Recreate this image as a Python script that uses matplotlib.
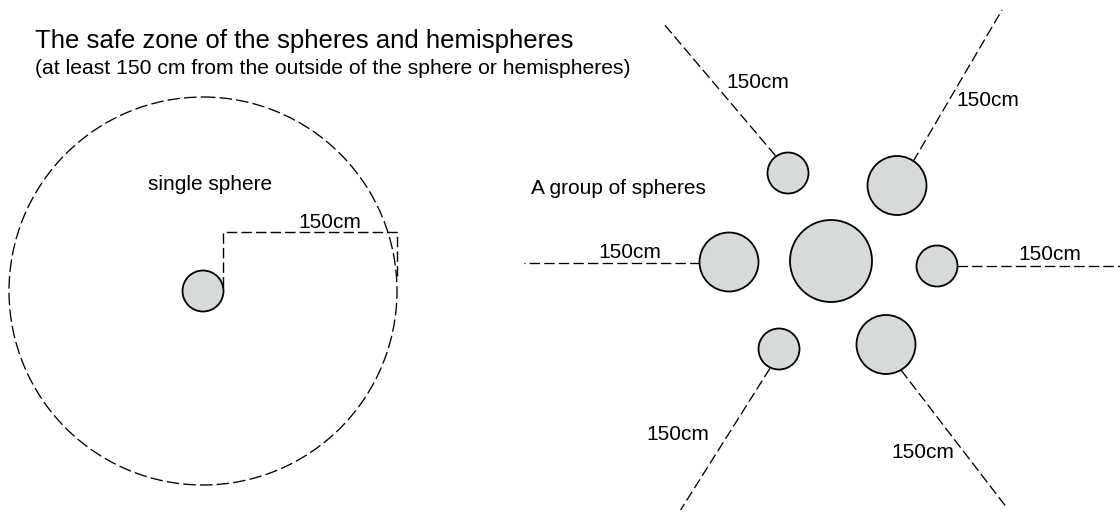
import matplotlib
matplotlib.use('Agg')
import matplotlib.pyplot as plt
from matplotlib.patches import Circle

plt.rcParams['font.family'] = ['Liberation Sans', 'DejaVu Sans']
plt.rcParams['lines.scale_dashes'] = False

# diagram geometry, in pixel units of the original drawing
title = 'The safe zone of the spheres and hemispheres'
subtitle = '(at least 150 cm from the outside of the sphere or hemispheres)'
label = '150cm'

# single sphere and its safe zone
single_x, single_y, single_r = 203, 291, 20.5
zone_r = 194
bracket_x = [223, 223, 397, 397]
bracket_y = [287, 232, 232, 280]

# group of spheres
group_x = [788, 897, 729, 831, 937, 779, 886]
group_y = [173, 185.5, 262, 261, 266, 349, 344.5]
group_r = [20.5, 29.5, 29.5, 41, 20.5, 20.5, 29.5]

# dashed distance lines (start on sphere, end outward)
line_x0 = [775.5, 913, 699.6, 957, 770, 901]
line_y0 = [155.7, 161.7, 263.3, 266, 368.3, 370]
line_x1 = [663, 1002, 524, 1120, 680.6, 1007]
line_y1 = [23, 10, 263.3, 266, 510, 508]

# label positions
lab_x = [330, 758, 988, 630, 1050, 678, 923]
lab_y = [222, 82, 100, 253, 254, 435, 452]

fig = plt.figure(figsize=(11.2, 5.12), dpi=100)
ax = fig.add_axes([0, 0, 1, 1])
ax.set_xlim(0, 1120)
ax.set_ylim(512, 0)
ax.axis('off')

fill = '#d6dadb'
dash = (0, (7.5, 3))

# single sphere
ax.add_patch(Circle((single_x, single_y), zone_r, fill=False, ec='black',
                    lw=0.95, linestyle=(0, (9, 3))))
ax.add_patch(Circle((single_x, single_y), single_r, fc=fill, ec='black', lw=1.3))
ax.plot(bracket_x, bracket_y, color='black', lw=1.0, linestyle=dash)

# group
for x0, y0, x1, y1 in zip(line_x0, line_y0, line_x1, line_y1):
    ax.plot([x0, x1], [y0, y1], color='black', lw=0.95, linestyle=dash)
for x, y, r in zip(group_x, group_y, group_r):
    ax.add_patch(Circle((x, y), r, fc=fill, ec='black', lw=1.3, zorder=3))

ax.text(35, 48, title, fontsize=18.5, va='baseline', ha='left')
ax.text(35, 74, subtitle, fontsize=15.2, va='baseline', ha='left')
ax.text(210, 185, 'single sphere', fontsize=15, ha='center', va='center')
ax.text(618, 189, 'A group of spheres', fontsize=15, ha='center', va='center')
for x, y in zip(lab_x, lab_y):
    ax.text(x, y, label, fontsize=15, ha='center', va='center')

fig.savefig('out.png', dpi=100)
